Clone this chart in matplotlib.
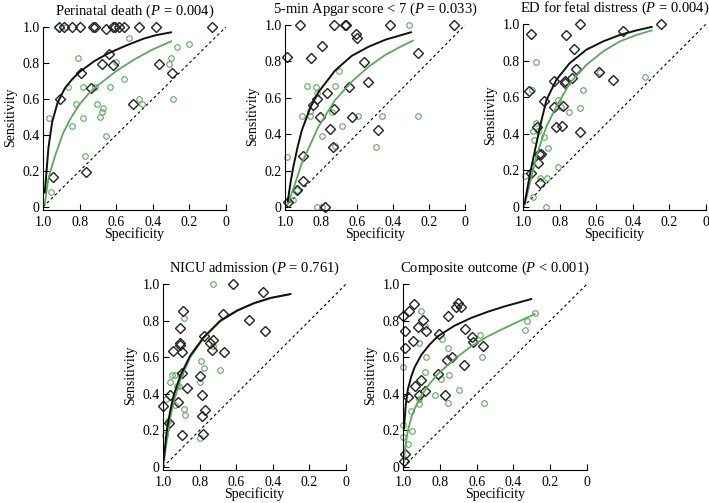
import matplotlib.pyplot as plt

plt.rcParams['font.family'] = ['Liberation Serif', 'DejaVu Serif']
plt.rcParams['mathtext.fontset'] = 'custom'
plt.rcParams['mathtext.it'] = 'Liberation Serif:italic'
plt.rcParams['mathtext.rm'] = 'Liberation Serif'

GREEN = '#5aaa5a'

# ---- Perinatal death ----
death_title = 'Perinatal death ($P$ = 0.004)'
death_blk_spec = [0.912, 0.885, 0.839, 0.799, 0.726, 0.713, 0.658, 0.616, 0.607, 0.585, 0.558, 0.475, 0.384, 0.075,
                  0.640, 0.675, 0.616, 0.792, 0.739, 0.907, 0.367, 0.296, 0.510, 0.943, 0.764]
death_blk_sens = [1.0, 1.0, 1.0, 1.0, 1.0, 1.0, 0.99, 1.0, 1.0, 1.0, 1.0, 1.0, 1.0, 1.0,
                  0.852, 0.797, 0.786, 0.745, 0.662, 0.598, 0.797, 0.747, 0.570, 0.168, 0.194]
death_grn_spec = [0.918, 0.872, 0.967, 0.954, 0.863, 0.808, 0.817, 0.843, 0.779, 0.781, 0.768, 0.715, 0.704,
                  0.689, 0.675, 0.671, 0.653, 0.634, 0.601, 0.558, 0.530, 0.477, 0.461, 0.311, 0.298, 0.265,
                  0.203, 0.291]
death_grn_sens = [1.0, 1.0, 0.496, 0.081, 0.664, 0.830, 0.570, 0.452, 0.664, 0.496, 0.282, 0.664, 0.570,
                  0.498, 0.530, 0.552, 0.395, 0.664, 0.806, 0.712, 0.939, 0.598, 0.570, 0.797, 0.830, 0.886,
                  0.908, 0.598]
death_blk_curve_x = [0.99, 0.97, 0.95, 0.92, 0.88, 0.84, 0.80, 0.72, 0.64, 0.55, 0.45, 0.38, 0.30]
death_blk_curve_y = [0.08, 0.33, 0.47, 0.58, 0.66, 0.71, 0.75, 0.81, 0.855, 0.895, 0.935, 0.955, 0.97]
death_grn_curve_x = [0.99, 0.97, 0.935, 0.89, 0.85, 0.80, 0.75, 0.70, 0.60, 0.50, 0.40, 0.30]
death_grn_curve_y = [0.015, 0.16, 0.28, 0.41, 0.49, 0.57, 0.63, 0.675, 0.755, 0.82, 0.875, 0.92]

# ---- 5-min Apgar ----
apgar_title = '5-min Apgar score < 7 ($P$ = 0.033)'
apgar_blk_spec = [0.917, 0.726, 0.667, 0.661, 0.417, 0.059, 0.991, 0.793, 0.856, 0.607, 0.600, 0.563, 0.537,
                  0.643, 0.767, 0.824, 0.843, 0.807, 0.730, 0.750, 0.731, 0.626, 0.485, 0.259, 0.898, 0.898,
                  0.935, 0.981, 0.778]
apgar_blk_sens = [1.0, 1.0, 1.0, 1.0, 1.0, 1.0, 0.822, 0.886, 0.817, 0.949, 0.927, 0.794, 0.688,
                  0.661, 0.628, 0.596, 0.560, 0.495, 0.536, 0.426, 0.330, 0.495, 0.422, 0.848, 0.281, 0.141,
                  0.095, 0.026, 0.0]
apgar_grn_spec = [0.991, 0.880, 0.904, 0.861, 0.861, 0.828, 0.824, 0.793, 0.700, 0.722, 0.741, 0.722, 0.681,
                  0.596, 0.459, 0.496, 0.311, 0.259, 0.824, 0.795, 0.954, 0.935]
apgar_grn_sens = [0.272, 0.664, 0.499, 0.499, 0.527, 0.657, 0.628, 0.391, 0.749, 0.664, 0.523, 0.334, 0.444,
                  0.499, 0.499, 0.330, 1.0, 0.499, 0.0, 0.0, 0.037, 0.092]
apgar_blk_curve_x = [0.985, 0.97, 0.954, 0.93, 0.907, 0.86, 0.815, 0.722, 0.63, 0.537, 0.44, 0.30]
apgar_blk_curve_y = [0.03, 0.13, 0.22, 0.33, 0.42, 0.545, 0.63, 0.75, 0.83, 0.88, 0.92, 0.96]
apgar_grn_curve_x = [0.985, 0.95, 0.907, 0.815, 0.722, 0.63, 0.537, 0.444, 0.352, 0.29]
apgar_grn_curve_y = [0.015, 0.11, 0.24, 0.44, 0.587, 0.688, 0.77, 0.835, 0.884, 0.914]

# ---- ED for fetal distress ----
ed_title = 'ED for fetal distress ($P$ = 0.004)'
ed_blk_spec = [0.958, 0.967, 0.956, 0.923, 0.912, 0.916, 0.901, 0.905, 0.887, 0.832, 0.832, 0.821, 0.785,
               0.781, 0.772, 0.770, 0.766, 0.723, 0.735, 0.708, 0.690, 0.686, 0.584, 0.507, 0.456, 0.248]
ed_blk_sens = [0.945, 0.636, 0.183, 0.439, 0.289, 0.241, 0.292, 0.132, 0.581, 0.686, 0.545, 0.439, 0.442,
               0.552, 0.691, 0.676, 0.941, 0.863, 0.707, 0.753, 1.0, 0.410, 0.735, 0.695, 0.963, 1.0]
ed_grn_spec = [0.991, 0.953, 0.945, 0.927, 0.927, 0.945, 0.920, 0.940, 0.909, 0.887, 0.876, 0.869, 0.863,
               0.808, 0.808, 0.790, 0.748, 0.686, 0.672, 0.577, 0.334]
ed_grn_sens = [0.168, 0.640, 0.055, 0.792, 0.461, 0.415, 0.415, 0.366, 0.160, 0.380, 0.0, 0.161, 0.320,
               0.585, 0.219, 0.545, 0.521, 0.539, 0.640, 0.735, 0.713]
ed_blk_curve_x = [0.991, 0.96, 0.927, 0.9, 0.872, 0.818, 0.745, 0.653, 0.562, 0.471, 0.38, 0.297]
ed_blk_curve_y = [0.02, 0.19, 0.347, 0.47, 0.585, 0.695, 0.786, 0.86, 0.905, 0.94, 0.965, 0.984]
ed_grn_curve_x = [0.991, 0.96, 0.927, 0.9, 0.872, 0.818, 0.745, 0.653, 0.562, 0.471, 0.38, 0.297]
ed_grn_curve_y = [0.01, 0.14, 0.274, 0.36, 0.44, 0.548, 0.676, 0.777, 0.85, 0.905, 0.94, 0.965]

# ---- NICU admission ----
nicu_title = 'NICU admission ($P$ = 0.761)'
nicu_blk_spec = [1.0, 0.964, 0.965, 0.945, 0.920, 0.909, 0.905, 0.905, 0.896, 0.894, 0.891, 0.896, 0.869,
                 0.796, 0.789, 0.787, 0.783, 0.778, 0.770, 0.745, 0.732, 0.729, 0.674, 0.665, 0.619, 0.532,
                 0.455, 0.444]
nicu_blk_sens = [0.336, 0.391, 0.240, 0.633, 0.355, 0.669, 0.678, 0.758, 0.513, 0.631, 0.851, 0.173, 0.433,
                 0.496, 0.391, 0.278, 0.180, 0.715, 0.309, 0.676, 0.642, 0.696, 0.835, 0.631, 1.0, 0.805,
                 0.958, 0.742]
nicu_grn_spec = [0.991, 0.984, 0.975, 0.964, 0.951, 0.933, 0.923, 0.915, 0.933, 0.905, 0.887, 0.887, 0.878,
                 0.800, 0.790, 0.774, 0.800, 0.729, 0.727, 0.687]
nicu_grn_sens = [0.176, 0.373, 0.249, 0.467, 0.505, 0.505, 0.442, 0.442, 0.340, 0.509, 0.815, 0.318, 0.282,
                 0.464, 0.578, 0.542, 0.158, 1.0, 0.660, 0.533]
nicu_blk_curve_x = [0.996, 0.978, 0.96, 0.942, 0.905, 0.851, 0.778, 0.687, 0.596, 0.505, 0.413, 0.304]
nicu_blk_curve_y = [0.042, 0.209, 0.31, 0.391, 0.50, 0.609, 0.709, 0.80, 0.855, 0.895, 0.924, 0.945]
nicu_grn_curve_x = [0.996, 0.978, 0.96, 0.942, 0.905, 0.851, 0.778, 0.687, 0.596, 0.505, 0.413, 0.304]
nicu_grn_curve_y = [0.02, 0.155, 0.27, 0.355, 0.478, 0.60, 0.704, 0.796, 0.852, 0.893, 0.923, 0.945]

# ---- Composite outcome ----
comp_title = 'Composite outcome ($P$ < 0.001)'
comp_blk_spec = [1.0, 0.987, 0.991, 0.995, 0.987, 0.973, 0.969, 0.940, 0.944, 0.937, 0.918, 0.913, 0.900,
                 0.891, 0.873, 0.879, 0.806, 0.810, 0.774, 0.755, 0.759, 0.732, 0.710, 0.701, 0.687, 0.668,
                 0.665, 0.625, 0.620, 0.565]
comp_blk_sens = [0.827, 0.745, 0.651, 0.031, 0.073, 0.382, 0.851, 0.891, 0.687, 0.445, 0.764, 0.396, 0.478,
                 0.805, 0.745, 0.415, 0.727, 0.509, 0.395, 0.827, 0.585, 0.600, 0.873, 0.896, 0.873, 0.558,
                 0.755, 0.709, 0.685, 0.660]
comp_grn_spec = [1.0, 1.0, 1.0, 0.973, 0.955, 0.951, 0.913, 0.913, 0.904, 0.913, 0.882, 0.873, 0.879,
                 0.824, 0.795, 0.788, 0.755, 0.752, 0.755, 0.697, 0.583, 0.571, 0.560, 0.335, 0.324, 0.284]
comp_grn_sens = [0.545, 0.227, 0.164, 0.127, 0.305, 0.196, 0.373, 0.342, 0.855, 0.678, 0.769, 0.600, 0.522,
                 0.391, 0.482, 0.700, 0.649, 0.504, 0.351, 0.422, 0.722, 0.604, 0.351, 0.751, 0.800, 0.842]
comp_blk_curve_x = [0.995, 0.985, 0.973, 0.955, 0.937, 0.9, 0.855, 0.81, 0.719, 0.629, 0.538, 0.447, 0.303]
comp_blk_curve_y = [0.21, 0.34, 0.427, 0.495, 0.545, 0.613, 0.67, 0.715, 0.773, 0.815, 0.849, 0.878, 0.918]
comp_grn_curve_x = [0.996, 0.985, 0.973, 0.955, 0.937, 0.9, 0.855, 0.81, 0.719, 0.629, 0.538, 0.447, 0.284]
comp_grn_curve_y = [0.027, 0.13, 0.20, 0.27, 0.318, 0.391, 0.455, 0.509, 0.591, 0.66, 0.715, 0.76, 0.836]

panels = [
    ([0.0606, 0.5885, 0.2581, 0.3579], death_title, death_blk_spec, death_blk_sens, death_grn_spec, death_grn_sens,
     death_blk_curve_x, death_blk_curve_y, death_grn_curve_x, death_grn_curve_y),
    ([0.4020, 0.5885, 0.2539, 0.3618], apgar_title, apgar_blk_spec, apgar_blk_sens, apgar_grn_spec, apgar_grn_sens,
     apgar_blk_curve_x, apgar_blk_curve_y, apgar_grn_curve_x, apgar_grn_curve_y),
    ([0.7377, 0.5885, 0.2581, 0.3638], ed_title, ed_blk_spec, ed_blk_sens, ed_grn_spec, ed_grn_sens,
     ed_blk_curve_x, ed_blk_curve_y, ed_grn_curve_x, ed_grn_curve_y),
    ([0.2299, 0.0715, 0.2581, 0.3638], nicu_title, nicu_blk_spec, nicu_blk_sens, nicu_grn_spec, nicu_grn_sens,
     nicu_blk_curve_x, nicu_blk_curve_y, nicu_grn_curve_x, nicu_grn_curve_y),
    ([0.5684, 0.0715, 0.2595, 0.3638], comp_title, comp_blk_spec, comp_blk_sens, comp_grn_spec, comp_grn_sens,
     comp_blk_curve_x, comp_blk_curve_y, comp_grn_curve_x, comp_grn_curve_y),
]

ticks = [1.0, 0.8, 0.6, 0.4, 0.2, 0.0]
tick_labels = ['1.0', '0.8', '0.6', '0.4', '0.2', '0']

fig = plt.figure(figsize=(7.09, 5.03), dpi=100)

for rect, title, bx, by, gx, gy, bcx, bcy, gcx, gcy in panels:
    ax = fig.add_axes(rect)
    ax.plot([1, 0], [0, 1], color='black', lw=0.8, ls=(0, (2.5, 2.5)))
    ax.plot(gx, gy, 'o', ms=4, mfc='none', mec=GREEN, mew=0.8, clip_on=False)
    ax.plot(bx, by, 'D', ms=5, mfc='none', mec='#222222', mew=1.0, clip_on=False)
    ax.plot(gcx, gcy, color=GREEN, lw=1.3)
    ax.plot(bcx, bcy, color='#111111', lw=1.4)
    ax.set_xlim(1.0, 0.0)
    ax.set_ylim(0.0, 1.0)
    ax.set_xticks(ticks)
    ax.set_xticklabels(tick_labels)
    ax.set_yticks(ticks)
    ax.set_yticklabels(tick_labels)
    ax.spines['top'].set_visible(False)
    ax.spines['right'].set_visible(False)
    ax.spines['bottom'].set_position(('outward', 2))
    ax.tick_params(direction='in', length=4, width=0.8, labelsize=10)
    ax.tick_params(axis='x', pad=4.5)
    ax.tick_params(axis='y', pad=2.5)
    ax.set_xlabel('Specificity', fontsize=10, labelpad=-1)
    ax.set_ylabel('Sensitivity', fontsize=10, labelpad=4)
    ax.set_title(title, fontsize=10.5, pad=8.5)

fig.savefig('out.png', dpi=100)
